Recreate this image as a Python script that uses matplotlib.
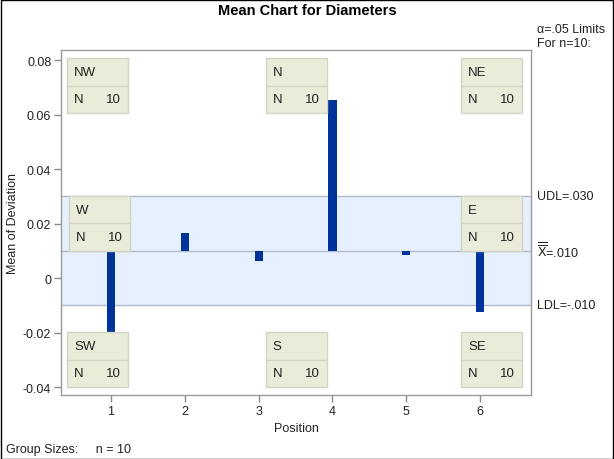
import numpy as np
import matplotlib
matplotlib.use("Agg")
import matplotlib.pyplot as plt
from matplotlib.patches import Rectangle

plt.rcParams['font.family'] = ['Liberation Sans', 'DejaVu Sans']

# data
positions = [1, 2, 3, 4, 5, 6]
means = [-0.0200, 0.0165, 0.0062, 0.0653, 0.0084, -0.0125]
center = 0.010
udl = 0.030
ldl = -0.010
n_size = 10
box_labels = ["NW", "N", "NE", "W", "E", "SW", "S", "SE"]
yticks = [-0.04, -0.02, 0, 0.02, 0.04, 0.06, 0.08]
ytick_labels = ["-0.04", "-0.02", "0", "0.02", "0.04", "0.06", "0.08"]

W, H = 614, 460
fig = plt.figure(figsize=(W / 100, H / 100), dpi=100)
fig.patch.set_facecolor('white')
# axes box in pixels: left 61, right 531, top 51, bottom 396
AW, AH = 531 - 61, 396 - 51
ax = fig.add_axes([61 / W, (H - 396) / H, AW / W, AH / H])

ax.set_xlim(0.322, 6.69)
ax.set_ylim(-0.0429, 0.0837)

# decision band and lines
ax.axhspan(ldl, udl, color='#E6F0FF', zorder=0)
for v in (ldl, center, udl):
    ax.axhline(v, color='#B4BCCB', lw=1, zorder=1)

ax.bar(positions, np.array(means) - center, bottom=center, width=0.11,
       color='#003399', zorder=2)

ax.set_xticks(positions)
ax.set_yticks(yticks)
ax.set_yticklabels(ytick_labels)
ax.tick_params(axis='both', colors='#8A8A8A', labelcolor='#222222',
               labelsize=9, length=5, width=1, direction='out')
ax.tick_params(axis='x', pad=2)
ax.tick_params(axis='y', pad=2)
for s in ax.spines.values():
    s.set_color('#9A9A9A')
    s.set_linewidth(1)
ax.set_xlabel("Position", fontsize=9, color='#222222', labelpad=4)
fig.text(13 / W, 1 - 224 / H, "Mean of Deviation", rotation=90, fontsize=9,
         ha='center', va='center', color='#222222')

# inset boxes (axes fraction)
bw = 61 / AW
bh = 55 / AH
xl = 6 / AW
xc = 0.5 - bw / 2
xr = 1 - 9 / AW - bw
yt = 1 - 8 / AH - bh
yb = 8 / AH
ym = (center - ax.get_ylim()[0]) / (ax.get_ylim()[1] - ax.get_ylim()[0])
spots = {"NW": (xl, yt), "N": (xc, yt), "NE": (xr, yt),
         "W": (xl + 2 / AW, ym), "E": (xr, ym),
         "SW": (xl, yb), "S": (xc, yb), "SE": (xr, yb)}
edge = '#D2D4C4'
for lab in box_labels:
    x0, y0 = spots[lab]
    ax.add_patch(Rectangle((x0, y0), bw, bh, transform=ax.transAxes,
                           facecolor='#E8ECD8', edgecolor=edge, lw=1,
                           zorder=3))
    ax.plot([x0, x0 + bw], [y0 + bh / 2, y0 + bh / 2], transform=ax.transAxes,
            color=edge, lw=1, zorder=4)
    ax.text(x0 + 7 / AW, y0 + bh * 0.75, lab, transform=ax.transAxes,
            fontsize=9.5, va='center', ha='left', color='#222222', zorder=5)
    ax.text(x0 + 7 / AW, y0 + bh * 0.25, "N", transform=ax.transAxes,
            fontsize=9.5, va='center', ha='left', color='#222222', zorder=5)
    ax.text(x0 + bw - 7 / AW, y0 + bh * 0.25, str(n_size),
            transform=ax.transAxes, fontsize=9.5, va='center', ha='right',
            color='#222222', zorder=5)

# right-side annotations
tr = ax.get_yaxis_transform()
ax.text(1.013, udl, "UDL=.030", transform=tr, fontsize=9, va='center',
        ha='left', color='#222222')
ax.text(1.013, center, r"$\overline{\overline{\mathrm{X}}}$=.010", transform=tr,
        fontsize=9, va='center', ha='left', color='#222222')
ax.text(1.013, ldl, "LDL=-.010", transform=tr, fontsize=9, va='center',
        ha='left', color='#222222')
fig.text(537 / W, 1 - 30 / H, "α=.05 Limits", fontsize=9, va='center',
         ha='left', color='#222222')
fig.text(537 / W, 1 - 44 / H, "For n=10:", fontsize=9, va='center',
         ha='left', color='#222222')

fig.text(0.5, 1 - 11 / H, "Mean Chart for Diameters", fontsize=10.5,
         fontweight='bold', ha='center', va='center', color='black')
fig.text(6 / W, 1 - 450 / H, "Group Sizes:     n = 10", fontsize=9,
         ha='left', va='center', color='#222222')

# outer border
fig.patches.append(Rectangle((0.5 / W, 0.5 / H), 1 - 1.5 / W, 1 - 1.5 / H,
                             transform=fig.transFigure, fill=False,
                             edgecolor='black', lw=1))

fig.savefig("out.png", dpi=100)
